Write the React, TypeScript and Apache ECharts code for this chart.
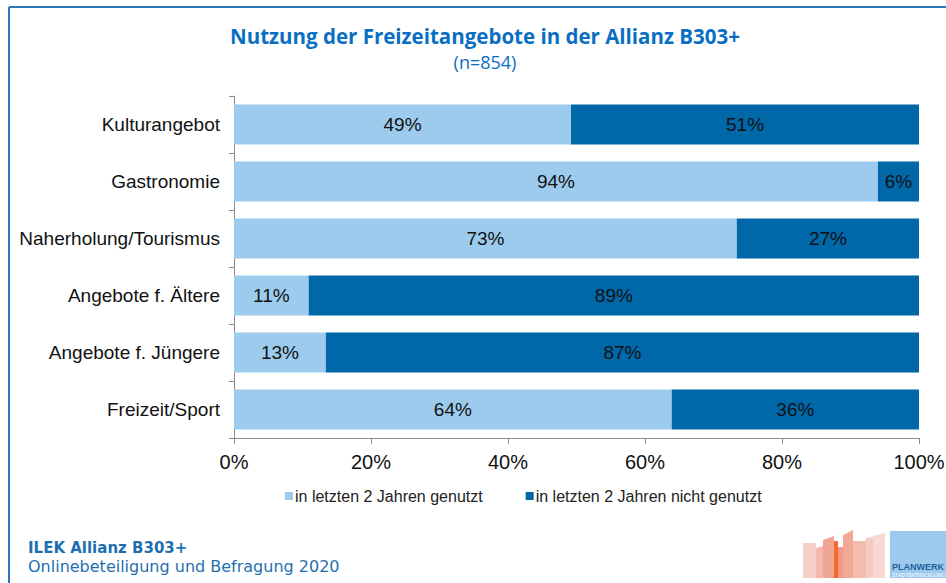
import React, { useEffect, useRef } from "react";
import * as echarts from "echarts";

const categories = [
  "Kulturangebot",
  "Gastronomie",
  "Naherholung/Tourismus",
  "Angebote f. Ältere",
  "Angebote f. Jüngere",
  "Freizeit/Sport",
];
const usedValues = [49.2, 94.0, 73.4, 10.9, 13.4, 63.9];
const notUsedValues = [50.8, 6.0, 26.6, 89.1, 86.6, 36.1];
const seriesNames = ["in letzten 2 Jahren genutzt", "in letzten 2 Jahren nicht genutzt"];
const xTicks = [0, 20, 40, 60, 80, 100];

export default function App() {
  const ref = useRef<HTMLDivElement>(null);
  useEffect(() => {
    if (!ref.current) return;
    const chart = echarts.init(ref.current, null, { renderer: "svg" });
    const labelCfg = {
      show: true,
      position: "inside",
      color: "#111",
      fontSize: 19,
      fontFamily: "Liberation Sans",
      formatter: (p: any) => Math.round(p.value) + "%",
    };
    const buildings = [
      { pts: [[803, 578], [803, 543], [816, 543], [816, 578]], c: "#F6CFC8" },
      { pts: [[816, 578], [816, 548], [823, 546], [823, 578]], c: "#F3B8AC" },
      { pts: [[823, 578], [823, 540], [834, 536], [834, 578]], c: "#F1A694" },
      { pts: [[834, 578], [834, 541], [838, 541], [838, 578]], c: "#F26A2E" },
      { pts: [[838, 578], [838, 547], [843, 547], [843, 578]], c: "#F29A86" },
      { pts: [[843, 578], [843, 535], [853, 530], [853, 578]], c: "#F1A997" },
      { pts: [[853, 578], [853, 541], [866, 541], [866, 578]], c: "#F4BCAF" },
      { pts: [[866, 578], [866, 538], [873, 537], [873, 578]], c: "#F6CBC2" },
      { pts: [[873, 578], [873, 536], [885, 533], [885, 578]], c: "#F8D8D2" },
    ];
    chart.setOption({
      animation: false,
      title: {
        text: "Nutzung der Freizeitangebote in der Allianz B303+",
        subtext: "(n=854)",
        left: 480,
        textAlign: "center",
        top: 20,
        itemGap: 7,
        textStyle: { color: "#0A6FC2", fontSize: 20.5, fontWeight: "bold", fontFamily: "Open Sans" },
        subtextStyle: { color: "#0A6FC2", fontSize: 18, fontFamily: "Open Sans" },
      },
      legend: {
        bottom: 74,
        left: 280,
        itemWidth: 8,
        itemHeight: 8,
        itemGap: 43,
        icon: "rect",
        textStyle: { fontSize: 16, color: "#222", fontFamily: "Liberation Sans", padding: [0, 0, 0, -3] },
        data: seriesNames,
      },
      grid: { left: 234, right: 27, top: 96, bottom: 145, outerBoundsMode: "none", containLabel: false },
      xAxis: {
        type: "value",
        min: 0,
        max: 100,
        interval: 20,
        axisLine: { show: true, lineStyle: { color: "#8c8c8c" } },
        axisTick: { show: true, length: 6, lineStyle: { color: "#8c8c8c" } },
        splitLine: { show: false },
        axisLabel: {
          fontSize: 20,
          color: "#111",
          fontFamily: "Liberation Sans",
          margin: 14,
          formatter: (v: number) => (xTicks.includes(v) ? v + "%" : ""),
        },
      },
      yAxis: {
        type: "category",
        inverse: true,
        data: categories,
        axisLine: { show: true, lineStyle: { color: "#8c8c8c" } },
        axisTick: { show: true, length: 5, lineStyle: { color: "#8c8c8c" } },
        axisLabel: { fontSize: 19, color: "#111", fontFamily: "Liberation Sans", margin: 14 },
      },
      series: [
        {
          name: seriesNames[0],
          type: "bar",
          stack: "s",
          barWidth: "70%",
          data: usedValues,
          itemStyle: { color: "#9DCBEE" },
          label: labelCfg,
        },
        {
          name: seriesNames[1],
          type: "bar",
          stack: "s",
          barWidth: "70%",
          data: notUsedValues,
          itemStyle: { color: "#0068A8" },
          label: labelCfg,
        },
      ],
      graphic: [
        { type: "line", shape: { x1: 9, y1: 7, x2: 946, y2: 7 }, style: { stroke: "#2E75B6", lineWidth: 2 } },
        { type: "line", shape: { x1: 9, y1: 7, x2: 9, y2: 583 }, style: { stroke: "#2E75B6", lineWidth: 2 } },
        {
          type: "text",
          left: 28,
          top: 540,
          style: { text: "ILEK Allianz B303+", fill: "#1F6FB0", fontSize: 15, fontWeight: "bold", fontFamily: "DejaVu Sans" },
        },
        {
          type: "text",
          left: 28,
          top: 558,
          style: { text: "Onlinebeteiligung und Befragung 2020", fill: "#1F6FB0", fontSize: 16, fontFamily: "DejaVu Sans" },
        },
        ...buildings.map((b) => ({
          type: "polygon",
          shape: { points: b.pts },
          style: { fill: b.c },
        })),
        { type: "rect", shape: { x: 890, y: 531, width: 56, height: 47 }, style: { fill: "#9DC9EC" } },
        {
          type: "text",
          left: 892,
          top: 562,
          style: { text: "PLANWERK", fill: "#1F5F9E", fontSize: 9, fontWeight: "bold", fontFamily: "Liberation Sans" },
        },
        {
          type: "text",
          left: 892,
          top: 572,
          style: { text: "STADTENTWICKLUNG", fill: "#ffffff", fontSize: 5, fontFamily: "Liberation Sans" },
        },
      ],
    });
    return () => chart.dispose();
  }, []);
  return <div ref={ref} style={{ position: "fixed", left: 0, top: 0, width: 946, height: 583, background: "#fff" }} />;
}
